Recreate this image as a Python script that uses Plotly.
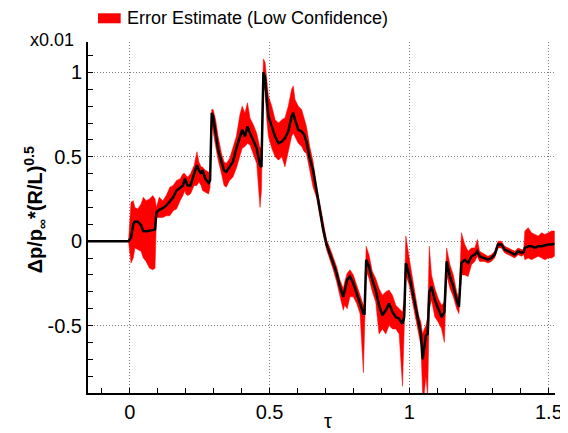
import plotly.graph_objects as go

# ---- data (units of 0.01) ----
tau = [-0.15, -0.005, 0.004, 0.012, 0.018, 0.028, 0.040, 0.048, 0.058, 0.070, 0.082, 0.090,
       0.095, 0.105, 0.118, 0.130, 0.143, 0.155, 0.167, 0.180, 0.190, 0.197, 0.200, 0.207,
       0.217, 0.230, 0.240, 0.247, 0.255, 0.260, 0.270, 0.282, 0.287, 0.293, 0.298, 0.307,
       0.316, 0.328, 0.337, 0.345, 0.357, 0.369, 0.381, 0.394, 0.402, 0.412, 0.421, 0.430,
       0.442, 0.454, 0.466, 0.471, 0.478, 0.484, 0.490, 0.496, 0.508, 0.520, 0.532, 0.544,
       0.555, 0.567, 0.579, 0.585, 0.591, 0.603, 0.615, 0.624, 0.632, 0.644, 0.656, 0.668,
       0.680, 0.692, 0.704, 0.716, 0.728, 0.740, 0.752, 0.764, 0.769, 0.778, 0.788, 0.800,
       0.812, 0.824, 0.836, 0.840, 0.846, 0.856, 0.868, 0.880, 0.892, 0.904, 0.916, 0.928,
       0.940, 0.952, 0.964, 0.976, 0.982, 0.988, 1.000, 1.012, 1.024, 1.034, 1.042, 1.048,
       1.054, 1.060, 1.066, 1.072, 1.080, 1.092, 1.104, 1.116, 1.126, 1.134, 1.146, 1.158,
       1.170, 1.178, 1.187, 1.199, 1.211, 1.223, 1.235, 1.244, 1.252, 1.270, 1.282, 1.294,
       1.306, 1.318, 1.330, 1.342, 1.354, 1.366, 1.378, 1.390, 1.402, 1.410, 1.414, 1.426,
       1.438, 1.450, 1.462, 1.474, 1.486, 1.498, 1.510, 1.520]

dp_mean = [0, 0, 0.02, 0.10, 0.116, 0.115, 0.095, 0.06, 0.058, 0.06, 0.065, 0.07,
           0.17, 0.185, 0.195, 0.21, 0.235, 0.26, 0.30, 0.32, 0.33, 0.37, 0.36, 0.33,
           0.33, 0.40, 0.45, 0.42, 0.40, 0.42, 0.37, 0.345, 0.36, 0.76, 0.74, 0.64,
           0.54, 0.47, 0.42, 0.41, 0.44, 0.47, 0.55, 0.61, 0.66, 0.62, 0.68, 0.64,
           0.59, 0.55, 0.45, 0.44, 1.00, 0.97, 0.84, 0.74, 0.68, 0.62, 0.58, 0.59,
           0.61, 0.65, 0.74, 0.76, 0.72, 0.66, 0.65, 0.63, 0.59, 0.49, 0.42, 0.30,
           0.19, 0.07, -0.02, -0.07, -0.13, -0.19, -0.27, -0.33, -0.30, -0.23, -0.21, -0.25,
           -0.31, -0.37, -0.43, -0.43, -0.11, -0.15, -0.23, -0.29, -0.38, -0.44, -0.41, -0.37,
           -0.42, -0.45, -0.46, -0.49, -0.45, -0.13, -0.20, -0.30, -0.40, -0.49, -0.55, -0.70,
           -0.62, -0.56, -0.55, -0.30, -0.27, -0.35, -0.40, -0.45, -0.42, -0.12, -0.21, -0.27,
           -0.35, -0.39, -0.13, -0.11, -0.13, -0.09, -0.08, -0.06, -0.09, -0.10, -0.11, -0.10,
           -0.08, -0.02, -0.02, -0.05, -0.06, -0.07, -0.08, -0.06, -0.07, -0.065, -0.04, -0.03,
           -0.03, -0.04, -0.03, -0.03, -0.025, -0.02, -0.02, -0.015]

dp_low = [0, 0, -0.13, -0.10, -0.04, -0.05, -0.06, -0.10, -0.12, -0.16, -0.17, -0.16,
          0.14, 0.14, 0.14, 0.15, 0.15, 0.18, 0.19, 0.24, 0.27, 0.30, 0.28, 0.27,
          0.28, 0.33, 0.33, 0.35, 0.33, 0.30, 0.29, 0.28, 0.32, 0.70, 0.66, 0.56,
          0.48, 0.40, 0.33, 0.32, 0.36, 0.38, 0.43, 0.50, 0.55, 0.56, 0.58, 0.57,
          0.51, 0.46, 0.20, 0.30, 0.95, 0.88, 0.72, 0.62, 0.55, 0.50, 0.48, 0.50,
          0.44, 0.52, 0.62, 0.64, 0.62, 0.58, 0.56, 0.53, 0.52, 0.42, 0.32, 0.26,
          0.16, 0.04, -0.05, -0.11, -0.17, -0.24, -0.32, -0.41, -0.38, -0.40, -0.33, -0.33,
          -0.37, -0.43, -0.78, -0.50, -0.18, -0.22, -0.30, -0.36, -0.55, -0.52, -0.55, -0.50,
          -0.52, -0.52, -0.55, -0.86, -0.60, -0.20, -0.26, -0.36, -0.45, -0.55, -0.62, -0.90,
          -0.90, -0.80, -0.92, -0.40, -0.35, -0.45, -0.48, -0.52, -0.60, -0.20, -0.28, -0.33,
          -0.40, -0.43, -0.20, -0.20, -0.21, -0.14, -0.12, -0.09, -0.12, -0.12, -0.13, -0.12,
          -0.10, -0.04, -0.04, -0.07, -0.08, -0.09, -0.10, -0.08, -0.09, -0.08, -0.11, -0.10,
          -0.11, -0.10, -0.09, -0.10, -0.11, -0.10, -0.10, -0.09]

dp_high = [0, 0, 0.23, 0.24, 0.20, 0.19, 0.22, 0.26, 0.24, 0.25, 0.27, 0.25,
           0.20, 0.26, 0.24, 0.27, 0.32, 0.33, 0.36, 0.37, 0.40, 0.40, 0.39, 0.38,
           0.40, 0.45, 0.53, 0.47, 0.44, 0.44, 0.42, 0.41, 0.40, 0.78, 0.78, 0.72,
           0.62, 0.52, 0.47, 0.46, 0.49, 0.55, 0.62, 0.75, 0.80, 0.76, 0.82, 0.73,
           0.69, 0.64, 0.55, 0.56, 1.08, 1.06, 0.94, 0.86, 0.80, 0.72, 0.70, 0.72,
           0.73, 0.80, 0.90, 0.92, 0.84, 0.80, 0.78, 0.72, 0.68, 0.56, 0.47, 0.33,
           0.22, 0.10, 0.01, -0.04, -0.09, -0.15, -0.23, -0.28, -0.24, -0.19, -0.17, -0.20,
           -0.26, -0.32, -0.38, -0.38, -0.03, -0.08, -0.18, -0.22, -0.28, -0.32, -0.30, -0.29,
           -0.32, -0.38, -0.40, -0.42, -0.35, 0.03, -0.10, -0.22, -0.32, -0.44, -0.48, -0.55,
           -0.52, -0.50, -0.45, -0.03, -0.20, -0.28, -0.34, -0.38, -0.36, -0.04, -0.14, -0.20,
           -0.30, -0.34, 0.05, -0.02, -0.06, -0.04, -0.04, 0.01, -0.06, -0.08, -0.09, -0.08,
           -0.06, 0.00, 0.00, -0.03, -0.04, -0.05, -0.06, -0.04, -0.05, -0.05, 0.06, 0.08,
           0.05, 0.04, 0.03, 0.05, 0.04, 0.05, 0.06, 0.06]

x_tick_vals = [0, 0.5, 1, 1.5]
x_tick_text = ["0", "0.5", "1", "1.5"]
y_tick_vals = [-0.5, 0, 0.5, 1]
y_tick_text = ["-0.5", "0", "0.5", "1"]

FONT = "Liberation Sans, Arial, sans-serif"

fig = go.Figure()
fig.add_trace(go.Scatter(
    x=tau + tau[::-1], y=dp_high + dp_low[::-1],
    fill="toself", fillcolor="#ff0000", mode="lines",
    line=dict(color="#ff0000", width=0.5), hoverinfo="skip", showlegend=False))
fig.add_trace(go.Scatter(
    x=tau, y=dp_mean, mode="lines",
    line=dict(color="black", width=2.5), showlegend=False))

fig.update_layout(
    width=560, height=425,
    margin=dict(l=80, r=13, t=34, b=40),
    paper_bgcolor="white", plot_bgcolor="white",
    font=dict(family=FONT, size=20, color="black"),
    showlegend=False,
)
fig.update_xaxes(
    range=[-0.15, 1.522], tickvals=x_tick_vals, ticktext=x_tick_text,
    showgrid=True, gridcolor="#808080", griddash="1px,2px", gridwidth=1,
    zeroline=False, showline=True, linecolor="black", linewidth=2,
    ticks="", tickfont=dict(size=20, family=FONT), automargin=False,
    minor=dict(dtick=0.1, tick0=0, ticks="inside", ticklen=5, tickcolor="black", tickwidth=1, showgrid=False),
)
fig.update_yaxes(
    range=[-0.9, 1.18], tickvals=y_tick_vals, ticktext=y_tick_text,
    showgrid=True, gridcolor="#808080", griddash="1px,2px", gridwidth=1,
    zeroline=False, showline=True, linecolor="black", linewidth=2,
    ticks="", tickfont=dict(size=20, family=FONT), automargin=False,
    minor=dict(dtick=0.1, tick0=0, ticks="inside", ticklen=5, tickcolor="black", tickwidth=1, showgrid=False),
)

# legend (drawn manually)
fig.add_shape(type="rect", xref="paper", yref="paper",
              x0=0.0214, x1=0.070, y0=1.0533, y1=1.0818,
              fillcolor="#ff0000", line=dict(width=0))
fig.add_annotation(text="Error Estimate (Low Confidence)", xref="paper", yref="paper",
                   x=0.0792, y=1.067, xanchor="left", yanchor="middle", showarrow=False,
                   font=dict(size=18, family=FONT))
# scale factor
fig.add_annotation(text="x0.01", xref="paper", yref="paper",
                   x=-0.0257, y=1.0057, xanchor="right", yanchor="middle", showarrow=False,
                   font=dict(size=18, family=FONT))
# axis titles
fig.add_annotation(text="<b>Δp/p<sub>∞</sub>*(R/L)<sup>0.5</sup></b>", xref="paper", yref="paper",
                   x=-0.113, y=0.521, xanchor="center", yanchor="middle", textangle=-90,
                   showarrow=False, font=dict(size=20, family=FONT))
fig.add_annotation(text="τ", xref="paper", yref="paper",
                   x=0.514, y=-0.08, xanchor="center", yanchor="middle",
                   showarrow=False, font=dict(size=20, family=FONT))

fig.write_html("out.html")
